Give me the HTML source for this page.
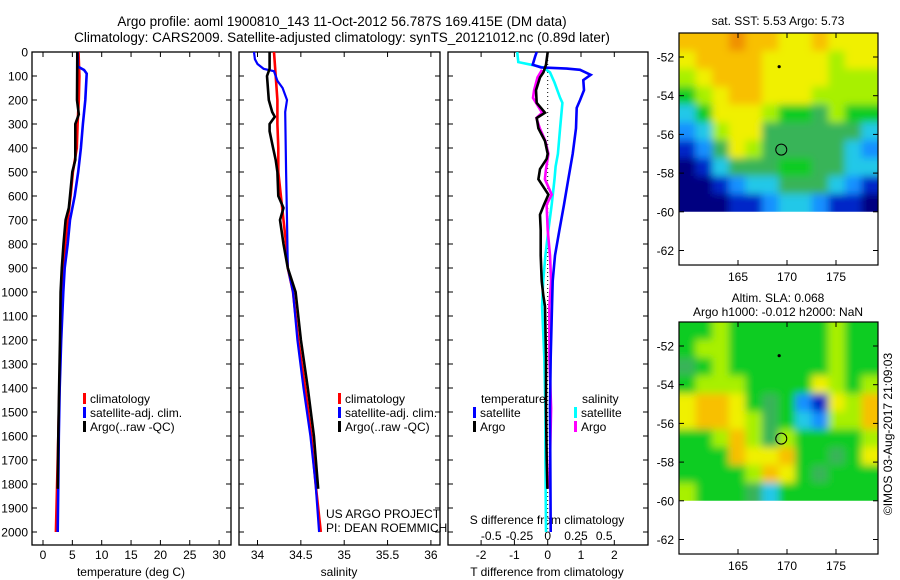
<!DOCTYPE html>
<html><head><meta charset="utf-8"><style>
html,body{margin:0;padding:0;background:#fff;}
svg{display:block;font-family:"Liberation Sans",sans-serif;}
text{font-size:12px;fill:#000;}
</style></head><body>
<svg id="c" width="900" height="580" viewBox="0 0 900 580" xmlns="http://www.w3.org/2000/svg">
<defs>
<filter id="blur" x="-5%" y="-5%" width="110%" height="110%"><feGaussianBlur stdDeviation="4"/></filter>
</defs>
<text x="342" y="26" text-anchor="middle" style="font-size:13.5px">Argo profile: aoml 1900810_143 11-Oct-2012 56.787S 169.415E (DM data)</text>
<text x="342" y="42" text-anchor="middle" style="font-size:13.5px">Climatology: CARS2009. Satellite-adjusted climatology: synTS_20121012.nc (0.89d later)</text>
<g id="g"></g>
</svg>
<script>
// ---- profile data ----
const climDepth=[0,100,200,300,400,500,600,700,800,900,1000,1200,1400,1600,1800,1900,2000];
const tClim=[6.05,6.2,6.1,5.9,5.75,5.1,4.7,4.2,3.8,3.5,3.3,3.0,2.8,2.6,2.4,2.3,2.2];
const sClim=[34.19,34.21,34.23,34.23,34.24,34.24,34.27,34.30,34.33,34.35,34.41,34.47,34.55,34.62,34.67,34.70,34.73];
const tSatDepth=[0,60,75,90,200,300,400,500,600,700,800,900,1000,1200,1400,1600,1800,2000];
const tSat=[5.9,5.9,7.0,7.45,7.2,6.8,6.45,6.0,5.4,4.6,4.2,3.7,3.45,3.1,2.85,2.7,2.6,2.5];
const tArgoDepth=[0,200,260,300,450,500,600,650,700,800,900,1000,1200,1400,1600,1820];
const tArgo=[5.85,5.8,6.1,5.5,5.5,5.0,4.6,4.4,3.85,3.5,3.2,3.0,2.9,2.75,2.6,2.5];
const sSatDepth=[0,30,50,70,80,120,150,200,250,500,700,900,1000,1200,1400,1600,1800,2000];
const sSat=[33.96,33.97,34.0,34.07,34.19,34.23,34.29,34.34,34.32,34.33,34.34,34.35,34.41,34.46,34.53,34.61,34.67,34.71];
const sArgoDepth=[0,70,100,200,250,270,300,330,400,450,500,600,650,700,800,900,1000,1200,1400,1600,1820];
const sArgo=[34.14,34.14,34.11,34.13,34.17,34.2,34.14,34.14,34.18,34.21,34.23,34.24,34.30,34.26,34.30,34.35,34.44,34.50,34.58,34.65,34.70];
// ---- difference data ----
const dTSatDepth=[0,21,53,64,69,74,95,117,159,201,233,318,424,530,636,742,848,954,1060,1272,1484,2000];
const dTSat=[-0.33,-0.38,-0.45,-0.2,0.57,0.97,1.29,1.07,1.09,0.97,0.87,0.85,0.75,0.62,0.49,0.35,0.22,0.15,0.13,0.09,0.07,0.09];
const dTArgoDepth=[0,53,85,106,159,212,253,275,318,371,424,445,488,530,594,636,678,742,848,954,1017,1060,1272,1484,1696,1820];
const dTArgo=[0,-0.05,-0.13,-0.23,-0.35,-0.33,-0.08,-0.33,-0.28,-0.08,0,-0.03,-0.23,-0.28,0.02,-0.11,-0.23,-0.21,-0.21,-0.18,-0.13,-0.08,-0.05,-0.05,-0.03,-0.01];
const dSSatDepth=[0,42,53,64,85,127,191,212,318,424,477,530,636,742,848,954,1060,1272,1484,1696,2000];
const dSSat=[-0.27,-0.26,-0.15,-0.04,0.02,0.06,0.11,0.13,0.11,0.09,0.07,0.06,0.035,0.006,-0.02,-0.04,-0.05,-0.03,-0.02,-0.02,-0.015];
const dSArgoDepth=[74,106,159,191,253,275,318,371,424,488,530,594,636,742,848,954,1060,1272,1484,1696,1820];
const dSArgo=[-0.05,-0.09,-0.12,-0.13,-0.05,-0.1,-0.07,-0.02,0.006,-0.015,-0.025,0.035,-0.01,0,0.02,0.03,0.015,0.015,0.03,0.02,0.015];
// ---- ticks ----
const depthTicks=[0,100,200,300,400,500,600,700,800,900,1000,1100,1200,1300,1400,1500,1600,1700,1800,1900,2000];
const tTicks=[0,5,10,15,20,25,30];
const sTicks=[34,34.5,35,35.5,36];
const sTickLabels=["34","34.5","35","35.5","36"];
const dTTicks=[-2,-1,0,1,2];
const dSTicks=[-0.5,-0.25,0,0.25,0.5];
const dSTickLabels=["-0.5","-0.25","0","0.25","0.5"];
const latTicks=[-52,-54,-56,-58,-60,-62];
const lonTicks=[165,170,175];
// ---- map data (colour class 0..9, rows north->south) ----
const sstGrid=[
[8,8,8,9,8,8,7,7,8,7,7,7],
[7,8,8,8,8,7,7,7,7,6,7,7],
[6,7,8,8,8,7,7,7,7,6,6,6],
[5,6,7,8,8,7,7,7,6,6,6,6],
[3,5,7,7,7,6,5,5,4,6,5,5],
[2,3,6,7,7,4,4,4,4,4,4,3],
[1,2,4,7,6,4,4,4,4,4,3,2],
[0,1,3,4,4,4,5,5,4,4,3,3],
[0,0,1,2,3,3,4,4,4,3,2,1],
[0,0,0,1,1,2,3,3,2,1,1,0]];
const slaGrid=[
[5,5,6,5,5,5,5,5,5,6,5,5],
[5,6,6,5,5,5,5,5,5,6,5,5],
[4,5,6,5,5,5,5,5,5,6,5,5],
[5,6,6,6,5,5,5,5,7,6,5,6],
[7,8,8,7,5,4,5,2,1,7,6,8],
[7,8,8,7,6,4,5,3,2,6,6,8],
[5,5,6,8,6,4,6,5,5,5,5,6],
[5,5,5,8,7,7,8,5,5,4,5,7],
[5,5,5,5,6,8,7,5,4,5,5,5],
[6,5,5,5,4,3,5,5,5,5,5,5]];
const cmap=["#000080","#0028c8","#1490ff","#20c8e8","#38b458","#10cc20","#a8f000","#f0f000","#f8c000","#f09000"];
const argoLon=169.415, argoLat=-56.787;

const NS="http://www.w3.org/2000/svg";
const G=document.getElementById('g');
function mk(tag,attrs,parent){const e=document.createElementNS(NS,tag);for(const k in attrs)e.setAttribute(k,attrs[k]);(parent||G).appendChild(e);return e;}
function txt(x,y,s,anchor,parent,size){const t=mk('text',{x:x,y:y,'text-anchor':anchor||'start'},parent);if(size)t.style.fontSize=size;t.textContent=s;return t;}

const yTop=52, yBot=545;
const yD=d=>52+d*0.24;
const xT=v=>43+v*5.87;
const xS=v=>257.5+(v-34)*86.7;
const xdT=v=>547.7+v*33.3;
const xdS=v=>547.7+v*113;

function frame(x0,x1,name){const r=mk('rect',{x:x0,y:yTop,width:x1-x0,height:yBot-yTop,fill:'none',stroke:'#000','stroke-width':1.3});}
function line(ds,vs,fx,col,name,w){const pts=ds.map((d,i)=>fx(vs[i]).toFixed(1)+','+yD(d).toFixed(1)).join(' ');const p=mk('polyline',{points:pts,fill:'none',stroke:col,'stroke-width':w||2.6,'stroke-linejoin':'miter'});}

const panels=[[32,231],[239,440],[448,648]];
frame(32,231,'temperature-panel-frame');
frame(239,440,'salinity-panel-frame');
frame(448,648,'difference-panel-frame');

depthTicks.forEach(d=>{
  const y=yD(d);
  panels.forEach(p=>{mk('line',{x1:p[0],x2:p[0]+5,y1:y,y2:y,stroke:'#000'});mk('line',{x1:p[1]-5,x2:p[1],y1:y,y2:y,stroke:'#000'});});
  const t=txt(28,y+4.5,String(d),'end');
  
  
});
function xticks(vals,labels,fx,ylab,name){vals.forEach((v,i)=>{const x=fx(v);mk('line',{x1:x,x2:x,y1:yTop,y2:yTop+5,stroke:'#000'});mk('line',{x1:x,x2:x,y1:yBot-5,y2:yBot,stroke:'#000'});const t=txt(x,ylab,labels[i],'middle');});}
xticks(tTicks,tTicks.map(String),xT,559,'temperature-tick-label');
xticks(sTicks,sTickLabels,xS,559,'salinity-tick-label');
xticks(dTTicks,dTTicks.map(String),xdT,559,'t-diff-tick-label');
dSTicks.forEach((v,i)=>{const t=txt(xdS(v),540,dSTickLabels[i],'middle');});

let t;
t=txt(131,576,'temperature (deg C)','middle');
t=txt(339,576,'salinity','middle');
t=txt(547,576,'T difference from climatology','middle');
t=txt(547,524,'S difference from climatology','middle');

const z=mk('line',{x1:xdT(0),x2:xdT(0),y1:yTop,y2:yD(2000),stroke:'#000','stroke-width':1,'stroke-dasharray':'1,3'});



line(climDepth,tClim,xT,'#ff0000','temperature-climatology-line');
line(tSatDepth,tSat,xT,'#0000ff','temperature-satellite-line');
line(tArgoDepth,tArgo,xT,'#000000','temperature-argo-line');
line(climDepth,sClim,xS,'#ff0000','salinity-climatology-line');
line(sSatDepth,sSat,xS,'#0000ff','salinity-satellite-line',2.2);
line(sArgoDepth,sArgo,xS,'#000000','salinity-argo-line');
line(dSSatDepth,dSSat,xdS,'#00ffff','s-diff-satellite-line');
line(dSArgoDepth,dSArgo,xdS,'#ff00ff','s-diff-argo-line');
line(dTSatDepth,dTSat,xdT,'#0000ff','t-diff-satellite-line');
line(dTArgoDepth,dTArgo,xdT,'#000000','t-diff-argo-line');

function leg(x,y,col,label,name){mk('rect',{x:x,y:y-10,width:3,height:11,fill:col});const tt=txt(x+7,y,label,'start');}
leg(83,403,'#ff0000','climatology','legend-climatology');
leg(83,417,'#0000ff','satellite-adj. clim.','legend-satellite');
leg(83,431,'#000000','Argo(..raw -QC)','legend-argo');
leg(338,403,'#ff0000','climatology','legend-climatology-sal');
leg(338,417,'#0000ff','satellite-adj. clim.','legend-satellite-sal');
leg(338,431,'#000000','Argo(..raw -QC)','legend-argo-sal');
t=txt(481,403,'temperature');
t=txt(582,403,'salinity');
leg(473,417,'#0000ff','satellite','legend-t-satellite');
leg(473,431,'#000000','Argo','legend-t-argo');
leg(574,417,'#00ffff','satellite','legend-s-satellite');
leg(574,431,'#ff00ff','Argo','legend-s-argo');
t=txt(326,518,'US ARGO PROJECT');
t=txt(326,532,'PI: DEAN ROEMMICH');

const mx0=679,mx1=878;
const lonX=l=>738+(l-165)*9.8;
let mapCount=0;
function drawMap(top,grid,name,title1,title2){
  const latY=l=>top+24+(-52-l)*19.35;
  const g=mk('g',{});
  
  
  const rows=grid.length, cols=grid[0].length;
  const lonL=(mx0-738)/9.8+165, lonR=(mx1-738)/9.8+165;
  const latT=-52+24/19.35, latB=-60;
  const dLon=(lonR-lonL)/cols, dLat=(latT-latB)/rows;
  const cid='clip'+(mapCount++);
  const cp=mk('clipPath',{id:cid},g);
  mk('rect',{x:mx0,y:top,width:mx1-mx0,height:latY(latB)-top},cp);
  const outer=mk('g',{'clip-path':'url(#'+cid+')'},g);
  const cells=mk('g',{filter:'url(#blur)'},outer);
  grid.forEach((row,r)=>row.forEach((v,c)=>{
    const x=lonX(lonL+c*dLon), y=latY(latT-r*dLat);
    let w=dLon*9.8+0.6, h=dLat*19.35+0.6, xx=x, yy=y;
    if(c===0){xx-=8;w+=8;} if(c===cols-1){w+=8;} if(r===0){yy-=8;h+=8;} if(r===rows-1){h+=8;}
    const cell=mk('rect',{x:xx.toFixed(2),y:yy.toFixed(2),width:w.toFixed(2),height:h.toFixed(2),fill:cmap[v]},cells);
    
    
  }));
  const bot=latY(-62.75);
  mk('rect',{x:mx0,y:top,width:mx1-mx0,height:bot-top,fill:'none',stroke:'#000','stroke-width':1.2},g);
  latTicks.forEach(l=>{const y=latY(l);mk('line',{x1:mx0,x2:mx0+5,y1:y,y2:y,stroke:'#000'},g);mk('line',{x1:mx1-5,x2:mx1,y1:y,y2:y,stroke:'#000'},g);const tt=txt(mx0-5,y+4.5,String(l),'end',g);});
  lonTicks.forEach(l=>{const x=lonX(l);mk('line',{x1:x,x2:x,y1:top,y2:top+5,stroke:'#000'},g);mk('line',{x1:x,x2:x,y1:bot-5,y2:bot,stroke:'#000'},g);const tt=txt(x,bot+16,String(l),'middle',g);});
  const ring=mk('circle',{cx:lonX(argoLon),cy:latY(argoLat),r:5.5,fill:'none',stroke:'#000','stroke-width':1},g);
  
  
  mk('circle',{cx:lonX(169.2),cy:latY(-52.5),r:1.6,fill:'#000'},g);
  if(title2){const a=txt(778,top-20,title1,'middle',g);const b=txt(778,top-6,title2,'middle',g);}
  else{const a=txt(778,top-8,title1,'middle',g);}
}
drawMap(33,sstGrid,'sst-map','sat. SST: 5.53 Argo: 5.73');
drawMap(322,slaGrid,'sla-map','Altim. SLA: 0.068','Argo h1000: -0.012 h2000: NaN');
t=txt(0,0,'©IMOS 03-Aug-2017 21:09:03','middle');
t.setAttribute('transform','translate(892,434) rotate(-90)');


</script>
</body></html>
